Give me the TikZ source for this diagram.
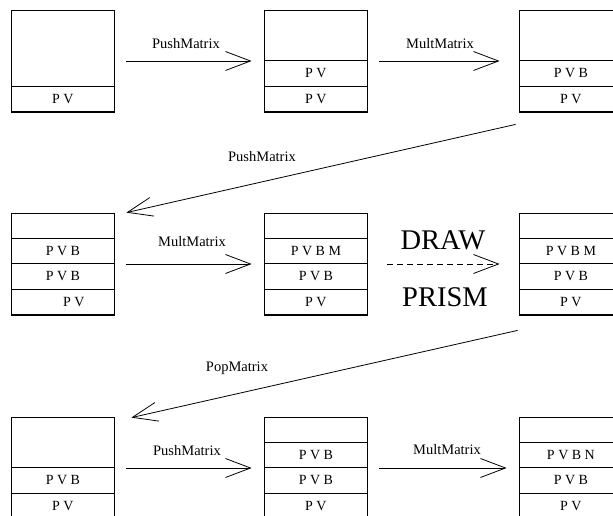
\documentclass[tikz,border=0pt]{standalone}
\usepackage{fontspec}
\setmainfont{Liberation Serif}
\usetikzlibrary{arrows.meta}
\begin{document}
\begin{tikzpicture}[x=1pt,y=-1pt,
  frame/.style={draw, line width=0.8pt, minimum width=103pt, minimum height=102pt, inner sep=0pt},
  cell/.style={draw, line width=0.8pt, minimum width=103pt, minimum height=25.5pt, inner sep=0pt, anchor=south west, font=\fontsize{14}{16}\selectfont},
  lbl/.style={inner sep=0pt, font=\fontsize{14.5}{16}\selectfont},
  big/.style={inner sep=0pt, font=\fontsize{28.5}{30}\selectfont},
  arr/.style={draw, line width=0.8pt, -{Straight Barb[length=25pt,width=19pt,line width=0.8pt]}},
  dashline/.style={dash pattern=on 6pt off 4pt}
]
\useasboundingbox (0,0) rectangle (613,516);
% row 1
\node[frame] (b11) at (62.5,61) {};
\node[cell] (c111) at (11,112) {P V};
\node[frame] (b12) at (315.5,61) {};
\node[cell] (c121) at (264,112) {P V};
\node[cell] (c122) at (264,86.5) {P V};
\node[frame] (b13) at (570.5,61) {};
\node[cell] (c131) at (519,112) {P V};
\node[cell] (c132) at (519,86.5) {P V B};
% row 2
\node[frame] (b21) at (62.5,264) {};
\node[cell] (c211) at (11,315) {\hspace*{22pt}P V};
\node[cell] (c212) at (11,289.5) {P V B};
\node[cell] (c213) at (11,264) {P V B};
\node[frame] (b22) at (315.5,264) {};
\node[cell] (c221) at (264,315) {P V};
\node[cell] (c222) at (264,289.5) {P V B};
\node[cell] (c223) at (264,264) {P V B M};
\node[frame] (b23) at (570.5,264) {};
\node[cell] (c231) at (519,315) {P V};
\node[cell] (c232) at (519,289.5) {P V B};
\node[cell] (c233) at (519,264) {P V B M};
% row 3
\node[frame] (b31) at (62.5,468) {};
\node[cell] (c311) at (11,519) {P V};
\node[cell] (c312) at (11,493.5) {P V B};
\node[frame] (b32) at (315.5,468) {};
\node[cell] (c321) at (264,519) {P V};
\node[cell] (c322) at (264,493.5) {P V B};
\node[cell] (c323) at (264,468) {P V B};
\node[frame] (b33) at (570.5,468) {};
\node[cell] (c331) at (519,519) {P V};
\node[cell] (c332) at (519,493.5) {P V B};
\node[cell] (c333) at (519,468) {P V B N};
% arrows
\draw[arr, shorten <=12pt, shorten >=12pt] (b11.east) -- (b12.west);
\draw[arr, shorten <=12pt, shorten >=19pt] (b12.east) -- (b13.west);
\draw[arr] ([shift={(-3,12)}]b13.south west) -- ([shift={(12,0)}]b21.north east);
\draw[arr, shorten <=12pt, shorten >=12pt] (b21.east) -- (b22.west);
\draw[arr, dashline, shorten <=20pt, shorten >=19pt] (b22.east) -- (b23.west);
\draw[arr] ([shift={(-1,15)}]b23.south west) -- ([shift={(17,1)}]b31.north east);
\draw[arr, shorten <=12pt, shorten >=12pt] (b31.east) -- (b32.west);
\draw[arr, shorten <=12pt, shorten >=12pt] (b32.east) -- (b33.west);
% labels
\node[lbl] (l1) at (186,44) {PushMatrix};
\node[lbl] (l2) at (440,44) {MultMatrix};
\node[lbl] (l3) at (262,157) {PushMatrix};
\node[lbl] (l4) at (192,242) {MultMatrix};
\node[big] (l5) at (443,240) {DRAW};
\node[big] (l6) at (445,297) {PRISM};
\node[lbl] (l7) at (237,368) {PopMatrix};
\node[lbl] (l8) at (187,451) {PushMatrix};
\node[lbl] (l9) at (447,450) {MultMatrix};
\end{tikzpicture}
\end{document}
